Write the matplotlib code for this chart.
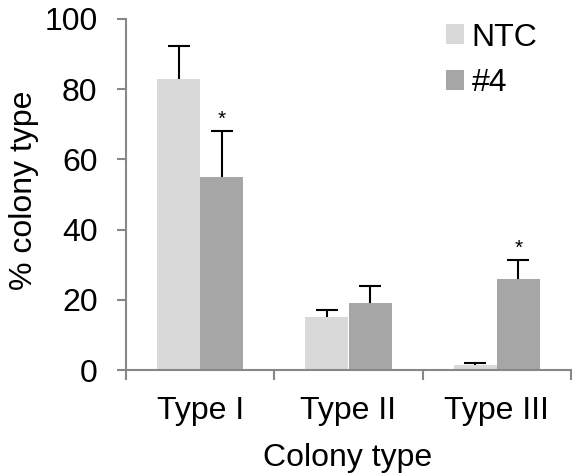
import matplotlib.pyplot as plt
import numpy as np

plt.rcParams['font.family'] = ['Liberation Sans', 'DejaVu Sans']

# data
categories = ['Type I', 'Type II', 'Type III']
series = ['NTC', '#4']
ntc_vals = [83, 15, 1.5]
ntc_err = [9.2, 2, 0.6]
sh4_vals = [55, 19, 26]
sh4_err = [13, 5, 5.2]
sig = [False, False, False], [True, False, True]  # asterisks: NTC, #4

colors = ['#d9d9d9', '#a6a6a6']
axcol = '#878787'
fsize = 23

fig = plt.figure(figsize=(5.78, 4.76), dpi=100)
ax = fig.add_axes([126/578, 1-370/476, (571-126)/578, (370-19)/476])

x = np.arange(len(categories))
bw = 0.29
ax.bar(x - bw/2, ntc_vals, bw, color=colors[0], label=series[0])
ax.bar(x + bw/2, sh4_vals, bw, color=colors[1], label=series[1])

# upper-only error bars, as in the excel original
cw = 0.074
for k, (xs, v, e) in enumerate([(x - bw/2, ntc_vals, ntc_err),
                                (x + bw/2, sh4_vals, sh4_err)]):
    top = np.array(v) + np.array(e)
    ax.vlines(xs, v, top, color='black', lw=1.5)
    ax.hlines(top, xs - cw, xs + cw, color='black', lw=1.5)
    for i in range(len(categories)):
        if sig[k][i]:
            ax.text(xs[i], top[i] + 1.8, '*', ha='center', va='baseline',
                    fontsize=15)

ax.set_xlim(-0.5, 2.5)
ax.set_ylim(0, 100)
ax.set_yticks([0, 20, 40, 60, 80, 100])
ax.set_xticks(x)
ax.set_xticklabels(categories)
ax.set_xticks([-0.5, 0.5, 1.5, 2.5], minor=True)
ax.tick_params(axis='x', which='major', length=0, pad=19, labelsize=fsize)
ax.tick_params(axis='x', which='minor', length=7, width=1.5, color=axcol)
ax.tick_params(axis='y', length=6.5, width=1.5, color=axcol, labelsize=fsize, pad=14)

for s in ['top', 'right']:
    ax.spines[s].set_visible(False)
for s in ['left', 'bottom']:
    ax.spines[s].set_color(axcol)
    ax.spines[s].set_linewidth(1.5)

fig.text(348/578, 1-458/476, 'Colony type', ha='center', va='center', fontsize=fsize)
fig.text(24/578, 1-190/476, '% colony type', ha='center', va='center',
         rotation='vertical', fontsize=fsize)

ax.legend(loc='upper left', bbox_to_anchor=(0.719, 0.99), frameon=False,
          fontsize=fsize, handlelength=0.56, handleheight=0.56,
          handletextpad=0.25, labelspacing=0.5, borderpad=0, borderaxespad=0)

plt.savefig('out.png', dpi=100)
